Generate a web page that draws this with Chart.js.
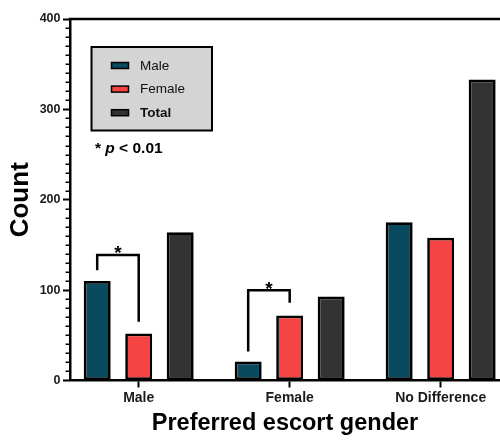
<!DOCTYPE html>
<html>
<head>
<meta charset="utf-8">
<script src="https://cdn.jsdelivr.net/npm/chart.js@4/dist/chart.umd.min.js"></script>
<style>
  html, body { margin: 0; padding: 0; background: #fff; overflow: hidden; }
  #wrap { width: 500px; height: 441px; position: relative; }
</style>
</head>
<body>
<div id="wrap"><canvas id="c" width="500" height="441"></canvas></div>
<script>
// Counts of preferred escort gender, split by respondent gender
const categories = ['Male', 'Female', 'No Difference'];
const seriesNames = ['Male', 'Female', 'Total'];
const maleCounts = [110, 21, 175];
const femaleCounts = [52, 72, 158];
const totalCounts = [164, 93, 333];
const yTicks = [0, 100, 200, 300, 400];
const yMinorStep = 10;

// Significance brackets between the Male and Female bars of a group
const sigGroups = [0, 1];
const sigTop = [139, 100];
const sigLeftEnd = [122, 32];
const sigRightEnd = [65, 86];
const sigNote = ['* ', 'p', ' < 0.01'];

const FONT = "'Liberation Sans', Arial, Helvetica, sans-serif";
const seriesColors = ['#0a4a5e', '#f64343', '#333333'];

const toPoints = arr => arr.map((v, i) => ({ x: i, y: v }));

const datasets = [maleCounts, femaleCounts, totalCounts].map((arr, k) => ({
  label: seriesNames[k],
  data: toPoints(arr),
  backgroundColor: seriesColors[k],
  borderColor: '#000',
  borderWidth: 2.7,
  borderSkipped: false,
  categoryPercentage: 0.8245,
  barPercentage: 0.65
}));

// Frame: top border line and minor ticks on the count axis
const framePlugin = {
  id: 'frame',
  afterDraw(chart) {
    const { ctx, chartArea: a, scales: { y } } = chart;
    ctx.save();
    ctx.strokeStyle = '#000';
    ctx.lineWidth = 2.5;
    ctx.beginPath();
    ctx.moveTo(a.left - 1.25, a.top);
    ctx.lineTo(a.right, a.top);
    ctx.stroke();
    ctx.lineWidth = 1.5;
    for (let v = y.min + yMinorStep; v < y.max; v += yMinorStep) {
      if (yTicks.includes(v)) continue;
      const py = Math.round(y.getPixelForValue(v)) + 0.25;
      ctx.beginPath();
      ctx.moveTo(a.left - 4.5, py);
      ctx.lineTo(a.left, py);
      ctx.stroke();
    }
    ctx.restore();
  }
};

// Brackets with asterisks over the compared bars
const sigPlugin = {
  id: 'sig',
  afterDatasetsDraw(chart) {
    const { ctx, scales: { y } } = chart;
    const m0 = chart.getDatasetMeta(0).data;
    const m1 = chart.getDatasetMeta(1).data;
    ctx.save();
    ctx.strokeStyle = '#000';
    ctx.lineWidth = 2.5;
    ctx.lineJoin = 'miter';
    sigGroups.forEach((g, i) => {
      const x1 = m0[g].x, x2 = m1[g].x;
      const yt = y.getPixelForValue(sigTop[i]);
      ctx.beginPath();
      ctx.moveTo(x1, y.getPixelForValue(sigLeftEnd[i]));
      ctx.lineTo(x1, yt);
      ctx.lineTo(x2, yt);
      ctx.lineTo(x2, y.getPixelForValue(sigRightEnd[i]));
      ctx.stroke();
      ctx.fillStyle = '#000';
      ctx.font = `bold 19px ${FONT}`;
      ctx.textAlign = 'center';
      ctx.textBaseline = 'alphabetic';
      ctx.fillText('*', (x1 + x2) / 2, yt + 4.5);
    });
    ctx.restore();
  }
};

// Boxed legend and the significance note
const legendPlugin = {
  id: 'boxLegend',
  afterDraw(chart) {
    const { ctx, chartArea: a } = chart;
    const bx = a.left + 21.5, by = a.top + 28, bw = 120.5, bh = 83.5;
    ctx.save();
    ctx.fillStyle = '#d4d4d4';
    ctx.fillRect(bx, by, bw, bh);
    ctx.strokeStyle = '#000';
    ctx.lineWidth = 2;
    ctx.strokeRect(bx, by, bw, bh);
    chart.data.datasets.forEach((ds, i) => {
      const ry = by + 18.5 + i * 23.6;
      ctx.fillStyle = ds.backgroundColor;
      ctx.fillRect(bx + 20, ry - 3, 17, 6);
      ctx.lineWidth = 1.5;
      ctx.strokeStyle = '#000';
      ctx.strokeRect(bx + 20, ry - 3, 17, 6);
      ctx.fillStyle = '#111';
      ctx.font = `${i === 2 ? 'bold ' : ''}13.5px ${FONT}`;
      ctx.textAlign = 'left';
      ctx.textBaseline = 'middle';
      ctx.fillText(ds.label, bx + 48.5, ry + 0.5);
    });
    // note: "* p < 0.01" with italic p
    let nx = a.left + 25, ny = a.top + 130;
    ctx.fillStyle = '#000';
    ctx.textBaseline = 'middle';
    sigNote.forEach((part, k) => {
      ctx.font = `${k === 1 ? 'italic ' : ''}bold 15.5px ${FONT}`;
      ctx.fillText(part, nx, ny);
      nx += ctx.measureText(part).width;
    });
    ctx.restore();
  }
};

new Chart(document.getElementById('c'), {
  type: 'bar',
  data: { datasets },
  options: {
    responsive: false,
    animation: false,
    layout: { padding: { top: 19, right: 0, bottom: 0, left: 0 } },
    plugins: { legend: { display: false }, tooltip: { enabled: false } },
    scales: {
      x: {
        type: 'linear',
        offset: false,
        min: -0.455,
        max: 2.393,
        afterBuildTicks: s => { s.ticks = categories.map((_, i) => ({ value: i })); },
        afterFit: s => { s.height = 60.5; },
        ticks: {
          callback: v => categories[v],
          font: { family: FONT, size: 14, weight: 'bold' },
          color: '#1a1a1a',
          padding: 2,
          maxRotation: 0,
          autoSkip: false
        },
        grid: { offset: false, drawOnChartArea: false, drawTicks: true, tickLength: 7, tickWidth: 2, tickColor: '#000' },
        border: { display: true, color: '#000', width: 2.5 },
        title: {
          display: true,
          text: 'Preferred escort gender',
          font: { family: FONT, size: 23.5, weight: 'bold' },
          color: '#000',
          padding: { top: 0, bottom: 3 }
        }
      },
      y: {
        min: 0,
        max: 400,
        afterBuildTicks: s => { s.ticks = yTicks.map(v => ({ value: v })); },
        afterFit: s => { s.width = 70; },
        ticks: {
          font: { family: FONT, size: 12.5, weight: 'bold' },
          color: '#1a1a1a',
          padding: 2.5
        },
        grid: { drawOnChartArea: false, drawTicks: true, tickLength: 7, tickWidth: 2, tickColor: '#000' },
        border: { display: true, color: '#000', width: 2.5 },
        title: {
          display: true,
          text: 'Count',
          font: { family: FONT, size: 26, weight: 'bold' },
          color: '#000',
          padding: { top: 5.5, bottom: 0 }
        }
      }
    }
  },
  plugins: [framePlugin, sigPlugin, legendPlugin]
});
</script>
</body>
</html>
